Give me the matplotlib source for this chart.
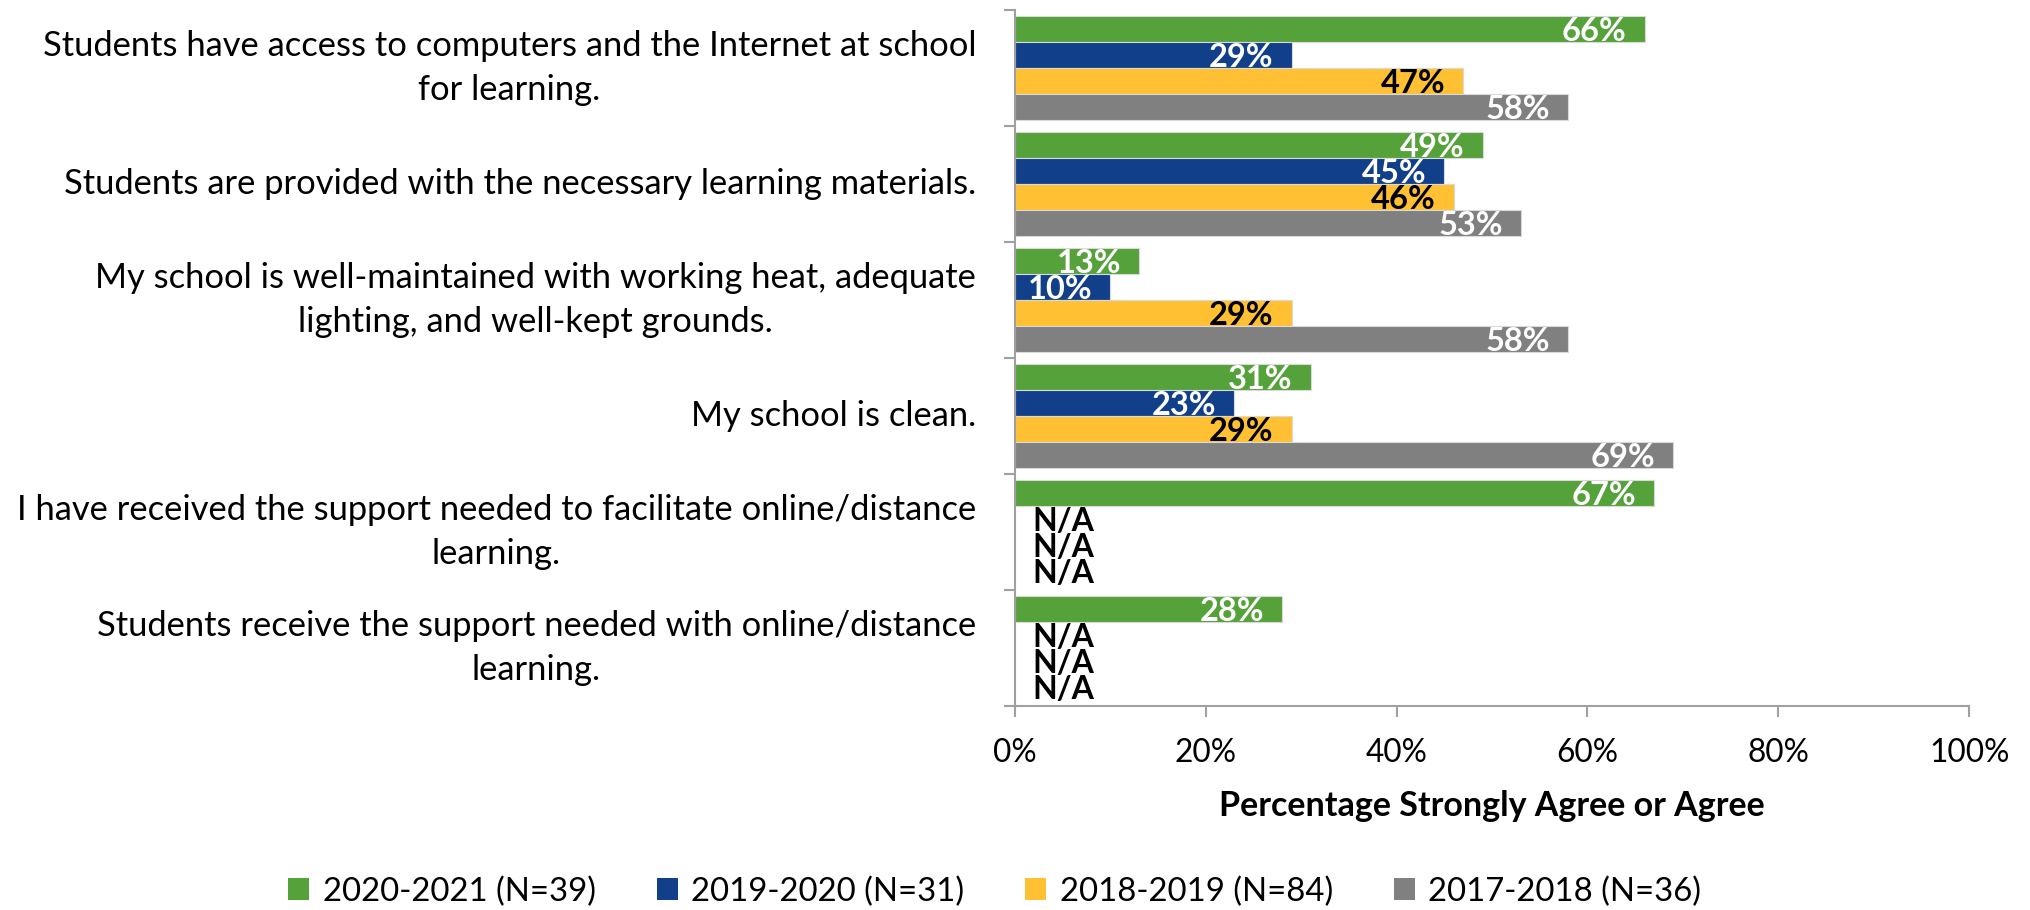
import matplotlib
matplotlib.use("Agg")
import matplotlib.pyplot as plt
import matplotlib.transforms as mtransforms
from matplotlib.patches import Patch

plt.rcParams['font.family'] = ['Lato', 'DejaVu Sans']

# question labels, top to bottom
questions = [
    "Students have access to computers and the Internet at school\nfor learning.",
    "Students are provided with the necessary learning materials.",
    "My school is well-maintained with working heat, adequate\nlighting, and well-kept grounds.",
    "My school is clean.",
    "I have received the support needed to facilitate online/distance\nlearning.",
    "Students receive the support needed with online/distance\nlearning.",
]

years = ["2020-2021 (N=39)", "2019-2020 (N=31)", "2018-2019 (N=84)", "2017-2018 (N=36)"]
colors = ["#55A13A", "#123F8A", "#FFC133", "#808080"]
label_colors = ["white", "white", "black", "white"]

# None = N/A (question not asked that year)
y2021 = [66, 49, 13, 31, 67, 28]
y2020 = [29, 45, 10, 23, None, None]
y2019 = [47, 46, 29, 29, None, None]
y2018 = [58, 53, 58, 69, None, None]
series = [y2021, y2020, y2019, y2018]

fig = plt.figure(figsize=(20.3, 9.1), dpi=100)
ax = fig.add_axes([0.5, 0.224, 0.470, 0.765])

bar_h = 0.225
for j, vals in enumerate(series):
    for i, v in enumerate(vals):
        yc = i + 0.05 + bar_h * (j + 0.5)
        if v is None:
            ax.text(1.8, yc + 0.02, "N/A", ha="left", va="center",
                    fontsize=23, fontweight="bold", color="black")
            continue
        ax.barh(yc, v, height=bar_h, color=colors[j], edgecolor="#D9D9D9", linewidth=0.8)
        ax.text(v - 1.9, yc + 0.02, f"{v}%", ha="right", va="center",
                fontsize=23.5, fontweight="bold", color=label_colors[j])

ax.set_xlim(0, 100)
ax.set_ylim(6, 0)

ax.set_xticks(range(0, 101, 20))
ax.set_xticklabels([f"{t}%" for t in range(0, 101, 20)], fontsize=22.8)
ax.set_yticks([i + 0.5 for i in range(6)])
ax.set_yticklabels(questions, fontsize=24.8, ha="right", multialignment="center",
                   linespacing=1.45)
ax.set_yticks(range(7), minor=True)
ax.tick_params(axis="y", which="major", length=0, pad=28)
ax.tick_params(axis="y", which="minor", length=8, color="#A0A0A0", width=1.5)
ax.tick_params(axis="x", length=8, color="#A0A0A0", width=1.5, pad=15)

# nudge the question labels up a little
for lab in ax.get_yticklabels():
    dy = 9 if "\n" in lab.get_text() else 3
    lab.set_transform(lab.get_transform() +
                      mtransforms.ScaledTranslation(0, dy / 100, fig.dpi_scale_trans))

for s in ["top", "right"]:
    ax.spines[s].set_visible(False)
for s in ["left", "bottom"]:
    ax.spines[s].set_color("#A0A0A0")
    ax.spines[s].set_linewidth(1.5)

ax.set_xlabel("Percentage Strongly Agree or Agree", fontsize=24.5, fontweight="bold", labelpad=16)

handles = [Patch(facecolor=c, edgecolor="none") for c in colors]
fig.legend(handles, years, loc="center", bbox_to_anchor=(0.49, 0.02), ncol=4,
           frameon=False, fontsize=23.7, handlelength=0.65, handleheight=0.65,
           handletextpad=0.4, columnspacing=1.85)

fig.savefig("out.png", dpi=100)
